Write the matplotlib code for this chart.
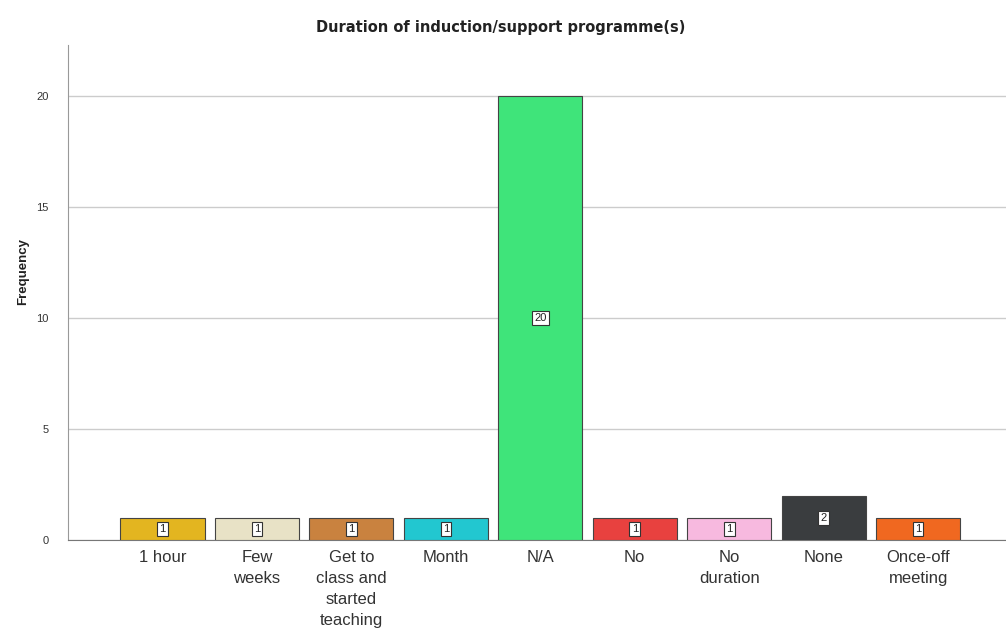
import matplotlib
matplotlib.use("Agg")
import matplotlib.pyplot as plt

categories = ["1 hour", "Few\nweeks", "Get to\nclass and\nstarted\nteaching", "Month", "N/A",
              "No", "No\nduration", "None", "Once-off\nmeeting"]
values = [1, 1, 1, 1, 20, 1, 1, 2, 1]
colors = ["#E3B520", "#E8E2C6", "#C9823F", "#22C7D0", "#3FE47A",
          "#E8413F", "#F7B9DF", "#3A3D3F", "#F06820"]
yticks = [0, 5, 10, 15, 20]

plt.rcParams['font.family'] = ['Liberation Sans', 'DejaVu Sans']
fig = plt.figure(figsize=(10.06, 6.38), dpi=100)
ax = fig.add_axes([0.0676, 0.1536, 0.9324, 0.7759])

x = list(range(len(categories)))
bars = ax.bar(x, values, width=0.89, color=colors, edgecolor="#444444", linewidth=0.8, zorder=3)
for xi, v in zip(x, values):
    ax.text(xi, v / 2, str(v), ha="center", va="center", fontsize=8, color="#222222", zorder=4,
            bbox=dict(boxstyle="square,pad=0.2", facecolor="white", edgecolor="#333333", linewidth=0.8))

ax.set_xlim(-1.0, 8.93)
ax.set_ylim(0, 22.3)
ax.set_yticks(yticks)
ax.set_yticklabels([str(t) for t in yticks], fontsize=8, color="#333333")
ax.set_xticks(x)
ax.set_xticklabels(categories, fontsize=12, color="#333333", linespacing=1.5)
ax.tick_params(axis="both", length=0)
ax.tick_params(axis="y", pad=14)
ax.tick_params(axis="x", pad=7)
ax.yaxis.grid(True, color="#cccccc", linewidth=1.0, zorder=0)
ax.set_axisbelow(True)
for s in ["top", "right"]:
    ax.spines[s].set_visible(False)
ax.spines["left"].set_color("#999999")
ax.spines["bottom"].set_color("#777777")
fig.text(0.023, 0.574, "Frequency", rotation=90, ha="center", va="center",
         fontsize=9.5, fontweight="bold", color="#222222")
fig.text(0.498, 0.957, "Duration of induction/support programme(s)", ha="center", va="center",
         fontsize=10.5, fontweight="bold", color="#222222", family="DejaVu Sans")
fig.savefig("out.png", dpi=100)
